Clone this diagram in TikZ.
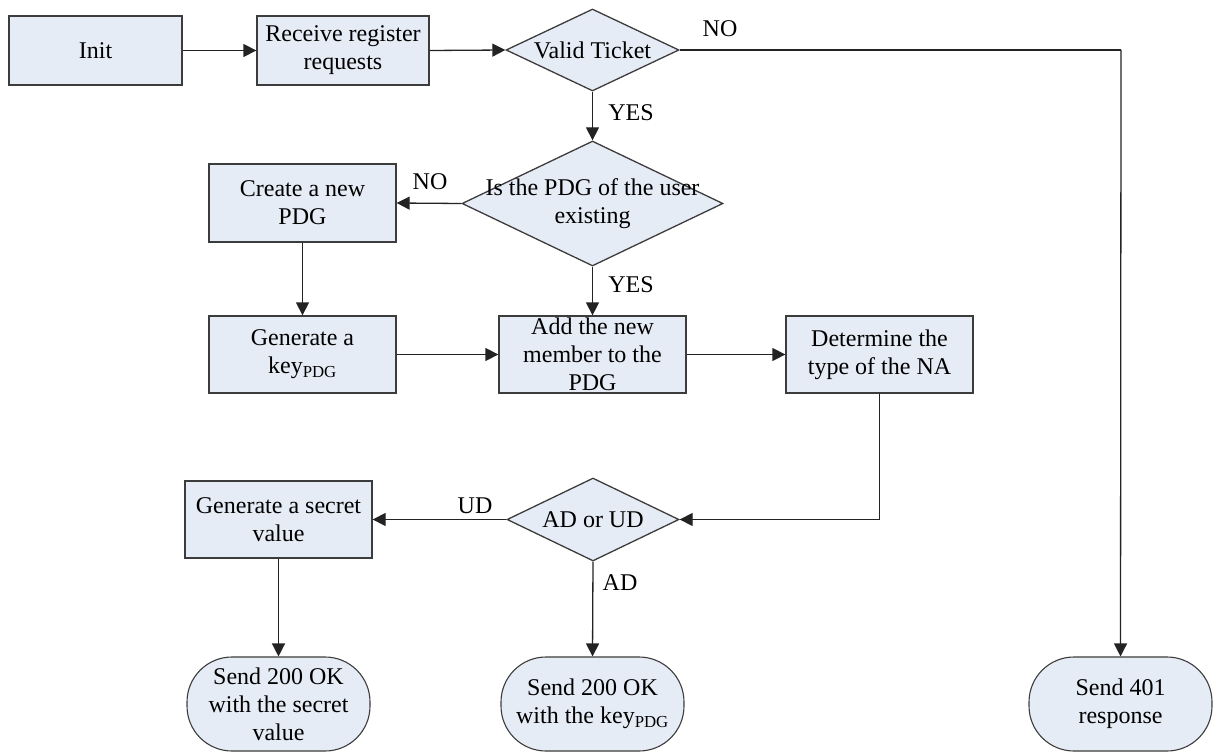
\documentclass[tikz,border=0pt]{standalone}
\usepackage{fontspec}
\setmainfont{Liberation Serif}
\usetikzlibrary{arrows.meta,shapes.geometric}

\definecolor{boxfill}{RGB}{230,236,246}
\definecolor{boxline}{RGB}{60,60,60}
\definecolor{wire}{RGB}{35,35,35}

\tikzset{
  x=1pt, y=-1pt,
  every node/.style={font=\fontsize{24}{28}\selectfont},
  stepbox/.style={draw=boxline, fill=boxfill, line width=1.3pt, rectangle,
    inner sep=0pt, minimum width=187pt, minimum height=77pt},
  choice/.style={draw=boxline, fill=boxfill, line width=1.3pt, diamond,
    inner sep=0pt},
  endbox/.style={draw=boxline, fill=boxfill, line width=1.1pt, rectangle,
    rounded corners=45pt, inner sep=0pt, minimum width=183pt, minimum height=94pt},
  txt/.style={align=center, inner sep=0pt},
  tag/.style={inner sep=0pt},
  flow/.style={draw=wire, line width=1.3pt, -{Triangle[length=13pt,width=13pt]}},
  wire/.style={draw=wire, line width=1.3pt}
}

\begin{document}
\begin{tikzpicture}
  \useasboundingbox (0,0) rectangle (1217,754);

  % boxes and decisions
  \node[stepbox, minimum width=173pt, minimum height=69pt] (init) at (95.5,50.5) {};
  \node[txt] (init-t) at (init) {Init};

  \node[stepbox, minimum width=172pt, minimum height=69pt] (recv) at (343,50.5) {};
  \node[txt] (recv-t) at (recv) {Receive register\\requests};

  \node[choice, minimum width=173pt, minimum height=82pt] (valid) at (592.5,50) {};
  \node[txt] (valid-t) at (valid) {Valid Ticket};

  \node[choice, minimum width=261pt, minimum height=125pt] (pdg) at (592.5,203.5) {};
  \node[txt] (pdg-t) at (pdg) {Is the PDG of the user\\existing};

  \node[stepbox, minimum height=78pt] (create) at (302.5,203) {};
  \node[txt] (create-t) at (create) {Create a new\\PDG};

  \node[stepbox] (gen) at (302.5,354.5) {};
  \node[txt] (gen-t) at (gen) {Generate a\\key\textsubscript{PDG}};

  \node[stepbox] (add) at (592.5,354.5) {};
  \node[txt] (add-t) at (add) {Add the new\\member to the\\PDG};

  \node[stepbox] (det) at (879.5,354.5) {};
  \node[txt] (det-t) at (det) {Determine the\\type of the NA};

  \node[choice, minimum width=172pt, minimum height=83pt] (adud) at (593,519.5) {};
  \node[txt] (adud-t) at (adud) {AD or UD};

  \node[stepbox] (sec) at (278.5,519.5) {};
  \node[txt] (sec-t) at (sec) {Generate a secret\\value};

  % terminal responses
  \node[endbox] (oksec) at (278.5,704) {};
  \node[txt] (oksec-t) at (oksec) {Send 200 OK\\with the secret\\value};

  \node[endbox] (okkey) at (592.5,704) {};
  \node[txt] (okkey-t) at (okkey) {Send 200 OK\\with the key\textsubscript{PDG}};

  \node[endbox] (deny) at (1120.5,704) {};
  \node[txt] (deny-t) at (deny) {Send 401\\response};

  % connectors
  \coordinate (turn) at (1121,50);
  \draw[flow] (init.east) -- (recv.west);
  \draw[flow] (recv.east) -- (valid.west);
  \draw[wire] (valid.east) -- (turn);
  \draw[flow] (turn) -- (deny.north);
  \draw[flow] (valid.south) -- (pdg.north);
  \draw[flow] (pdg.west) -- (create.east);
  \draw[flow] (create.south) -- (gen.north);
  \draw[flow] (pdg.south) -- (add.north);
  \draw[flow] (gen.east) -- (add.west);
  \draw[flow] (add.east) -- (det.west);
  \draw[flow] (det.south) |- (adud.east);
  \draw[flow] (adud.west) -- (sec.east);
  \draw[flow] (sec.south) -- (oksec.north);
  \draw[flow] (adud.south) -- (okkey.north);

  % branch labels
  \node[tag] (no1) at (720,29) {NO};
  \node[tag] (yes1) at (631,113) {YES};
  \node[tag] (no2) at (430,182) {NO};
  \node[tag] (yes2) at (631,285) {YES};
  \node[tag] (ud) at (475,506) {UD};
  \node[tag] (ad) at (620,583) {AD};
\end{tikzpicture}
\end{document}
